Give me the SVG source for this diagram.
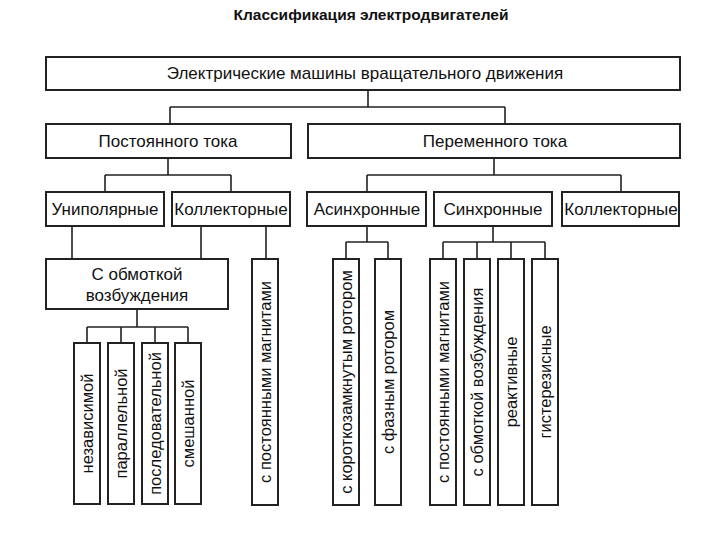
<svg xmlns="http://www.w3.org/2000/svg" width="720" height="540" viewBox="0 0 720 540">
<style>
.b{fill:#fff;stroke:#222;stroke-width:2}
.t{font-family:"Liberation Sans",Arial,sans-serif;font-size:17px;fill:#111;text-anchor:middle;dominant-baseline:central}
.v{font-size:16.5px}
.c{fill:none;stroke:#222;stroke-width:1.6}
.title{font-family:"Liberation Sans",Arial,sans-serif;font-size:15.5px;font-weight:bold;fill:#111;text-anchor:middle}
</style>
<rect width="720" height="540" fill="#fff"/>
<text class="title" x="371" y="20">Классификация электродвигателей</text>
<g id="connectors">
<path class="c" d="M368 90V107M170 107H505M170 107V124M505 107V124"/>
<path class="c" d="M168 158V175M105 175H231M105 175V192M231 175V192"/>
<path class="c" d="M72 226V259M201 226V259M266 226V259"/>
<path class="c" d="M137 309V327M87 327H188M87 327V343M121 327V343M155 327V343M188 327V343"/>
<path class="c" d="M494 158V175M367 175H621M367 175V192M621 175V192"/>
<path class="c" d="M367 226V242M346 242H388M346 242V259M388 242V259"/>
<path class="c" d="M493 192V242M443 242H545M443 242V259M477 242V259M511 242V259M545 242V259"/>
</g>
<g id="root"><rect class="b" x="46" y="57" width="634" height="33"/><text class="t" x="365" y="73">Электрические машины вращательного движения</text></g>
<g id="dc"><rect class="b" x="46" y="124" width="245" height="34"/><text class="t" x="168" y="141">Постоянного тока</text></g>
<g id="ac"><rect class="b" x="308" y="124" width="372" height="34"/><text class="t" x="495" y="141">Переменного тока</text></g>
<g id="unipolar"><rect class="b" x="46" y="192" width="118" height="34"/><text class="t" x="105" y="209">Униполярные</text></g>
<g id="dc-collector"><rect class="b" x="172" y="192" width="118" height="34"/><text class="t" x="231" y="209">Коллекторные</text></g>
<g id="async"><rect class="b" x="307" y="192" width="119" height="34"/><text class="t" x="367" y="209">Асинхронные</text></g>
<g id="sync"><rect class="b" x="434" y="192" width="118" height="34"/><text class="t" x="493" y="209">Синхронные</text></g>
<g id="ac-collector"><rect class="b" x="562" y="192" width="117" height="34"/><text class="t" x="621" y="209">Коллекторные</text></g>
<g id="winding"><rect class="b" x="46" y="259" width="182" height="50"/><text class="t" x="137" y="274">С обмоткой</text><text class="t" x="137" y="295">возбуждения</text></g>
<g id="independent"><rect class="b" x="74" y="343" width="26" height="161"/><text class="t v" transform="translate(87 423.5) rotate(-90)">независимой</text></g>
<g id="parallel"><rect class="b" x="108" y="343" width="26" height="161"/><text class="t v" transform="translate(121 423.5) rotate(-90)">параллельной</text></g>
<g id="series"><rect class="b" x="142" y="343" width="26" height="161"/><text class="t v" transform="translate(155 423.5) rotate(-90)">последовательной</text></g>
<g id="mixed"><rect class="b" x="175" y="343" width="26" height="161"/><text class="t v" transform="translate(188 423.5) rotate(-90)">смешанной</text></g>
<g id="dc-magnets"><rect class="b" x="252" y="259" width="26" height="246"/><text class="t v" transform="translate(265 382) rotate(-90)">с постоянными магнитами</text></g>
<g id="squirrel"><rect class="b" x="333" y="259" width="26" height="246"/><text class="t v" transform="translate(346 382) rotate(-90)">с короткозамкнутым ротором</text></g>
<g id="wound"><rect class="b" x="375" y="259" width="26" height="246"/><text class="t v" transform="translate(388 382) rotate(-90)">с фазным ротором</text></g>
<g id="sync-magnets"><rect class="b" x="430" y="259" width="26" height="246"/><text class="t v" transform="translate(443 382) rotate(-90)">с постоянными магнитами</text></g>
<g id="sync-winding"><rect class="b" x="464" y="259" width="26" height="246"/><text class="t v" transform="translate(477 382) rotate(-90)">с обмоткой возбуждения</text></g>
<g id="reactive"><rect class="b" x="498" y="259" width="26" height="246"/><text class="t v" transform="translate(511 382) rotate(-90)">реактивные</text></g>
<g id="hysteresis"><rect class="b" x="532" y="259" width="26" height="246"/><text class="t v" transform="translate(545 382) rotate(-90)">гистерезисные</text></g>
</svg>
